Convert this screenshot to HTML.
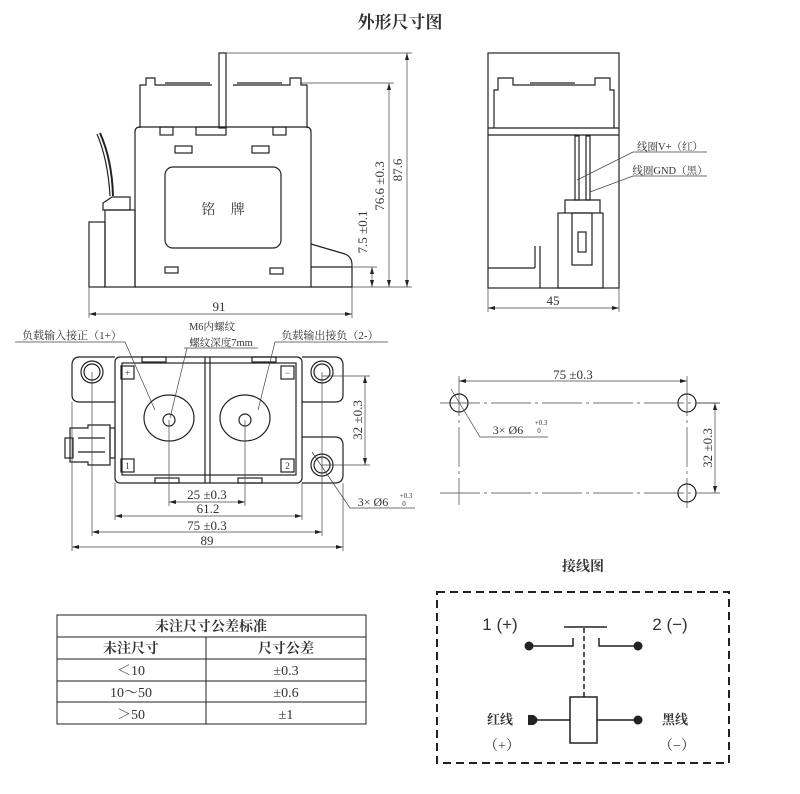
<!DOCTYPE html>
<html><head><meta charset="utf-8"><style>
html,body{margin:0;padding:0;background:#fff}
svg{display:block}
text{font-family:"Liberation Serif","Noto Serif CJK SC",serif;fill:#333}
</style></head><body>
<svg width="800" height="794" viewBox="0 0 800 794" xmlns="http://www.w3.org/2000/svg">
<g fill="none" stroke="#222" stroke-width="1.2">
<rect x="219" y="53" width="7" height="75"/>
<path d="M140 128 V85 H146 V78 H155 V85 H212 M233 85 H290 V78 H301 V85 H307 V128"/>
<line x1="165" y1="83" x2="210" y2="83"/><line x1="237" y1="83" x2="282" y2="83"/>
<path d="M135 287 V132 Q135 127 140 127 H306 Q311 127 311 132 V287 Z"/>
<rect x="160" y="127" width="13" height="8"/><rect x="196" y="127" width="30" height="8"/><rect x="273" y="127" width="13" height="8"/>
<rect x="175" y="146" width="17" height="7"/><rect x="252" y="146" width="17" height="7"/>
<rect x="165" y="167" width="116" height="81" rx="8"/>
<rect x="165" y="267" width="13" height="6"/><rect x="270" y="268" width="13" height="6"/>
<path d="M311 244 L345 254 Q352 257 352 265 V287 H311"/>
<line x1="311" y1="267" x2="352" y2="267"/>
<path d="M100 133 Q112 160 113 196" stroke-width="2"/><path d="M97 134 Q108 160 110 196"/>
<path d="M103 203 L112 197 H130 V210 H103 Z"/>
<rect x="89" y="222" width="16" height="65"/><rect x="105" y="210" width="30" height="77"/>
<g stroke-width="0.7" stroke="#444">
<line x1="226" y1="53" x2="412" y2="53"/><line x1="300" y1="83" x2="394" y2="83"/>
<line x1="352" y1="267" x2="377" y2="267"/><line x1="352" y1="287" x2="412" y2="287"/>
<line x1="407" y1="53" x2="407" y2="287"/><line x1="389" y1="83" x2="389" y2="287"/><line x1="372" y1="267" x2="372" y2="287"/>
<line x1="89" y1="287" x2="89" y2="318"/><line x1="352" y1="287" x2="352" y2="318"/>
<line x1="89" y1="314" x2="352" y2="314"/>
</g>
<rect x="488" y="53" width="131" height="235"/>
<line x1="488" y1="128" x2="619" y2="128"/><line x1="488" y1="135" x2="619" y2="135"/>
<path d="M494 128 V90 H498 V78 H513 V85 H595 V78 H610 V90 H614 V128"/>
<line x1="530" y1="83" x2="575" y2="83"/>
<rect x="575" y="136" width="4" height="64"/><rect x="586" y="136" width="4" height="64"/>
<path d="M565 213 V200 H600 V213"/>
<rect x="558" y="213" width="45" height="75"/><rect x="572" y="213" width="20" height="52"/>
<rect x="578" y="232" width="8" height="20"/>
<line x1="488" y1="268" x2="535" y2="268"/><line x1="535" y1="246" x2="535" y2="268"/><line x1="540" y1="246" x2="540" y2="288"/>
<g stroke-width="0.7" stroke="#444">
<path d="M577 180 L633 152 H707"/><path d="M590 192 L633 176 H707"/>
<line x1="488" y1="288" x2="488" y2="312"/><line x1="619" y1="288" x2="619" y2="312"/>
<line x1="488" y1="308" x2="619" y2="308"/>
</g>
<path d="M115 357 H80 Q72 357 72 365 V395 Q72 402 80 402 H115"/>
<path d="M302 357 H335 Q343 357 343 365 V395 Q343 402 335 402 H302"/>
<path d="M302 437 H335 Q343 437 343 445 V475 Q343 483 335 483 H302"/>
<rect x="115" y="357" width="187" height="126" rx="5"/>
<rect x="122" y="363" width="174" height="112"/>
<line x1="205" y1="357" x2="205" y2="483"/><line x1="210" y1="357" x2="210" y2="483"/>
<rect x="142" y="357" width="24" height="5"/><rect x="252" y="357" width="24" height="5"/>
<rect x="155" y="478" width="24" height="5"/><rect x="238" y="478" width="24" height="5"/>
<ellipse cx="169" cy="418" rx="25" ry="23"/><circle cx="169" cy="420" r="6"/>
<ellipse cx="245" cy="418" rx="25" ry="23"/><circle cx="245" cy="420" r="6"/>
<circle cx="92" cy="372" r="11"/><circle cx="92" cy="372" r="8"/>
<circle cx="322" cy="372" r="11"/><circle cx="322" cy="372" r="8"/>
<circle cx="322" cy="465" r="11"/><circle cx="322" cy="465" r="8"/>
<rect x="121" y="366" width="13" height="13"/><rect x="281" y="366" width="13" height="13"/>
<rect x="121" y="459" width="13" height="13"/><rect x="281" y="459" width="13" height="13"/>
<path d="M70 428 H88 V425 H110 V465 H88 V462 H70 Z"/><rect x="65" y="438" width="8" height="20"/>
<line x1="78" y1="438" x2="105" y2="438"/><line x1="78" y1="452" x2="105" y2="452"/>
<rect x="110" y="428" width="5" height="30"/>
<g stroke-width="0.7" stroke="#444">
<path d="M15 342 H125 L155 410"/><path d="M184 348 H258"/><line x1="187" y1="348" x2="170" y2="418"/>
<path d="M388 342 H275 L258 410"/>
<line x1="169" y1="420" x2="169" y2="506"/><line x1="245" y1="420" x2="245" y2="506"/>
<line x1="169" y1="502" x2="245" y2="502"/>
<line x1="115" y1="483" x2="115" y2="520"/><line x1="302" y1="483" x2="302" y2="520"/>
<line x1="115" y1="516" x2="302" y2="516"/>
<line x1="92" y1="372" x2="92" y2="536"/><line x1="322" y1="372" x2="322" y2="536"/>
<line x1="92" y1="532" x2="322" y2="532"/>
<line x1="72" y1="402" x2="72" y2="551"/><line x1="343" y1="483" x2="343" y2="551"/>
<line x1="72" y1="547" x2="343" y2="547"/>
<line x1="322" y1="376" x2="370" y2="376"/><line x1="322" y1="465" x2="370" y2="465"/>
<line x1="365" y1="376" x2="365" y2="465"/>
<path d="M312 452 L350 508 H415"/>
</g>
<circle cx="459" cy="403" r="9"/><circle cx="687" cy="403" r="9"/><circle cx="687" cy="493" r="9"/>
<g stroke-width="0.7" stroke="#444">
<line x1="440" y1="403" x2="720" y2="403" stroke-dasharray="40 4 3 4"/>
<line x1="440" y1="493" x2="720" y2="493" stroke-dasharray="40 4 3 4"/>
<line x1="459" y1="376" x2="459" y2="505" stroke-dasharray="40 4 3 4"/>
<line x1="687" y1="376" x2="687" y2="508" stroke-dasharray="40 4 3 4"/>
<line x1="459" y1="381" x2="687" y2="381"/>
<line x1="696" y1="403" x2="720" y2="403"/><line x1="715" y1="403" x2="715" y2="493"/>
<path d="M451 389 L480 437 H548"/>
</g>
<rect x="437" y="592" width="292" height="171" stroke-width="2" stroke-dasharray="8 5"/>
<line x1="564" y1="627" x2="607" y2="627" stroke-width="1.5"/>
<path d="M529 646 H573 V638 M638 646 H599 V638" stroke-width="1.5"/>
<line x1="584" y1="628" x2="584" y2="697" stroke-width="1.5" stroke-dasharray="5 3"/>
<rect x="570" y="697" width="27" height="46" stroke-width="1.5"/>
<path d="M532 720 H570 M597 720 H638" stroke-width="1.5"/>
<rect x="57" y="615" width="309" height="109" stroke-width="1"/>
<g stroke-width="1"><line x1="57" y1="637" x2="366" y2="637"/><line x1="57" y1="659" x2="366" y2="659"/>
<line x1="57" y1="681" x2="366" y2="681"/><line x1="57" y1="702" x2="366" y2="702"/>
<line x1="206" y1="637" x2="206" y2="724"/></g>
</g>
<g fill="#222">
<circle cx="529" cy="646" r="4.5"/><circle cx="638" cy="646" r="4.5"/><circle cx="638" cy="720" r="4.5"/>
<rect x="528" y="715" width="6" height="10"/><circle cx="533" cy="720" r="4.5"/>
<path d="M89 314 l7 -2 v4z M352 314 l-7 -2 v4z M488 308 l7 -2 v4z M619 308 l-7 -2 v4z"/>
<path d="M407 53 l-2 7 h4z M407 287 l-2 -7 h4z M389 83 l-2 7 h4z M389 287 l-2 -7 h4z M372 267 l-2 7 h4z M372 287 l-2 -7 h4z"/>
<path d="M169 502 l7 -2 v4z M245 502 l-7 -2 v4z M115 516 l7 -2 v4z M302 516 l-7 -2 v4z M92 532 l7 -2 v4z M322 532 l-7 -2 v4z M72 547 l7 -2 v4z M343 547 l-7 -2 v4z"/>
<path d="M365 376 l-2 7 h4z M365 465 l-2 -7 h4z M459 381 l7 -2 v4z M687 381 l-7 -2 v4z M715 403 l-2 7 h4z M715 493 l-2 -7 h4z"/>
</g>
<g font-size="13" text-anchor="middle">
<text x="400" y="28" font-size="17" font-weight="bold" fill="#111">外形尺寸图</text>
<text x="226" y="214" font-size="14" letter-spacing="6">铭 牌</text>
<text x="219" y="311">91</text>
<text x="553" y="305">45</text>
<text transform="translate(402,170) rotate(-90)">87.6</text>
<text transform="translate(384,186) rotate(-90)">76.6 ±0.3</text>
<text transform="translate(367,232) rotate(-90)">7.5 ±0.1</text>
<text x="670" y="150" font-size="10.5">线圈V+（红）</text>
<text x="670" y="174" font-size="10.5">线圈GND（黑）</text>
<text x="72" y="339" font-size="11">负载输入接正（1+）</text>
<text x="212" y="330" font-size="10.5">M6内螺纹</text>
<text x="221" y="346" font-size="10.5">螺纹深度7mm</text>
<text x="330" y="339" font-size="11">负载输出接负（2-）</text>
<text x="207" y="499">25 ±0.3</text>
<text x="208" y="513">61.2</text>
<text x="207" y="530">75 ±0.3</text>
<text x="207" y="545">89</text>
<text transform="translate(362,420) rotate(-90)">32 ±0.3</text>
<text x="373" y="506" font-size="12">3× Ø6</text>
<text x="406" y="498" font-size="7">+0.3</text><text x="404" y="506" font-size="7">0</text>
<text x="573" y="379">75 ±0.3</text>
<text transform="translate(712,448) rotate(-90)">32 ±0.3</text>
<text x="508" y="434" font-size="12">3× Ø6</text>
<text x="541" y="425" font-size="7">+0.3</text><text x="539" y="433" font-size="7">0</text>
<text x="583" y="571" font-size="14" font-weight="bold" fill="#111">接线图</text>
<text x="500" y="630" font-size="17" fill="#111" style="font-family:'Liberation Sans','Noto Sans CJK SC',sans-serif">1 (+)</text>
<text x="670" y="630" font-size="17" fill="#111" style="font-family:'Liberation Sans','Noto Sans CJK SC',sans-serif">2 (−)</text>
<text x="500" y="724" font-size="13" font-weight="bold" fill="#111">红线</text>
<text x="502" y="750" font-size="14" fill="#111">（+）</text>
<text x="675" y="724" font-size="13" font-weight="bold" fill="#111">黑线</text>
<text x="677" y="750" font-size="14" fill="#111">（−）</text>
<text x="211" y="631" font-size="14" font-weight="bold" fill="#111">未注尺寸公差标准</text>
<text x="131" y="653" font-size="14" font-weight="bold" fill="#111">未注尺寸</text>
<text x="286" y="653" font-size="14" font-weight="bold" fill="#111">尺寸公差</text>
<text x="131" y="675" font-size="14" fill="#111">＜10</text>
<text x="286" y="675" font-size="14" fill="#111">±0.3</text>
<text x="131" y="697" font-size="14" fill="#111">10～50</text>
<text x="286" y="697" font-size="14" fill="#111">±0.6</text>
<text x="131" y="719" font-size="14" fill="#111">＞50</text>
<text x="286" y="719" font-size="14" fill="#111">±1</text>
</g>
<g font-size="9" text-anchor="middle" fill="#222">
<text x="127.5" y="376">+</text><text x="287.5" y="376">−</text>
<text x="127.5" y="469">1</text><text x="287.5" y="469">2</text>
</g>
</svg>
</body></html>
